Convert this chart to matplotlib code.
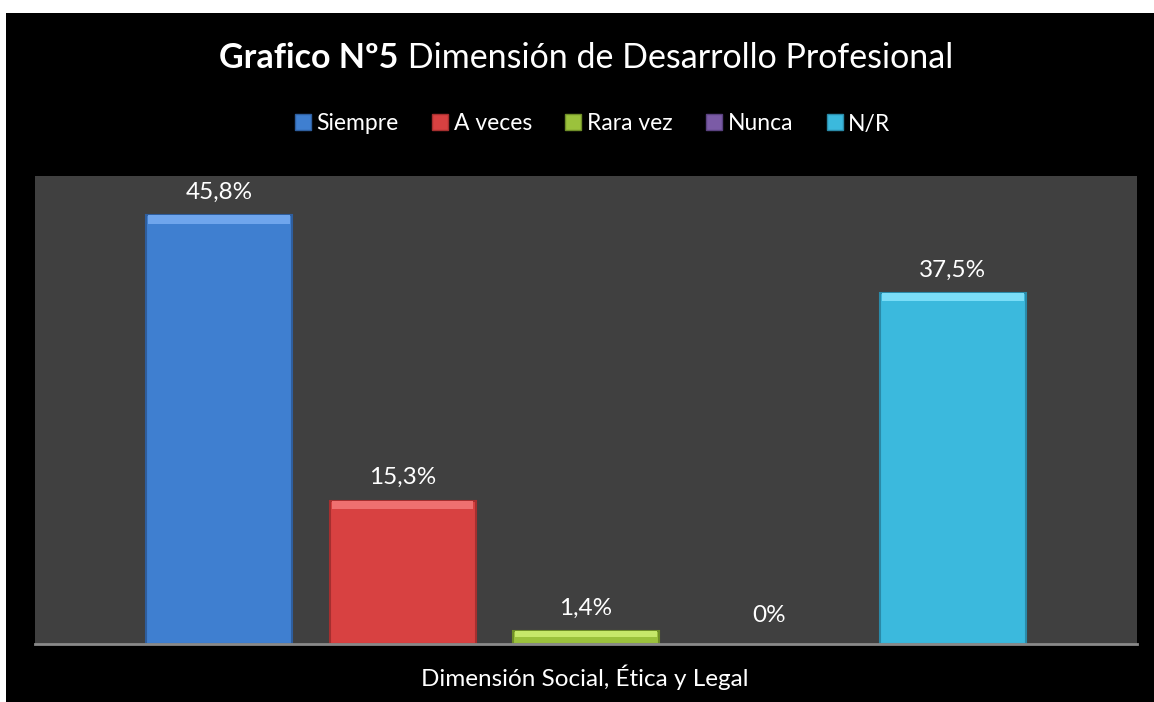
import matplotlib
matplotlib.use("Agg")
import matplotlib.pyplot as plt
from matplotlib.patches import Rectangle
from matplotlib.lines import Line2D

title_bold = "Grafico Nº5"
title_rest = " Dimensión de Desarrollo Profesional"
category = "Dimensión Social, Ética y Legal"
series = ["Siempre", "A veces", "Rara vez", "Nunca", "N/R"]
values = [45.8, 15.3, 1.4, 0.0, 37.5]
labels = ["45,8%", "15,3%", "1,4%", "0%", "37,5%"]
colors = ["#3F7FD0", "#D84141", "#9BC23C", "#7B5BA6", "#3BB9DD"]
highlights = ["#6FA5EC", "#EF7070", "#C6E86A", "#A68AD0", "#7ADDF7"]
edges = ["#2E5E9E", "#A52F2F", "#6F8E28", "#5A4280", "#2A8AA8"]

plt.rcParams['font.family'] = ['Lato', 'DejaVu Sans']

W, H = 1154, 702
fig = plt.figure(figsize=(W/100, H/100), dpi=100)
fig.patch.set_facecolor("white")
fig.add_artist(Rectangle((6/W, 0), 1 - 6/W, 1 - 13/H, transform=fig.transFigure,
                         facecolor="black", edgecolor="none", zorder=0))

ax = fig.add_axes([35/W, 1 - 644/H, (1137 - 35)/W, (644 - 176)/H])
ax.set_facecolor("#404040")
ax.set_ylim(0, 50)
ax.set_xlim(-0.5, 0.5)
n = len(values)
bw = 146 / 1102
step = 183.5 / 1102
xs = [(i - (n - 1) / 2) * step for i in range(n)]
for x, v, c, hc, ec, lab in zip(xs, values, colors, highlights, edges, labels):
    if v > 0:
        ax.bar(x, v, width=bw, color=c, edgecolor=ec, linewidth=1.5, zorder=2)
        strip = min(0.9, v * 0.5)
        ax.bar(x, strip, bottom=v - strip, width=bw * 0.97, color=hc,
               edgecolor="none", zorder=3)
    ax.annotate(lab, (x, v), xytext=(0, 9 if v > 0 else 13), textcoords="offset points",
                ha="center", va="bottom", color="white", fontsize=17.5)

for s in ["top", "right", "left"]:
    ax.spines[s].set_visible(False)
ax.spines["bottom"].set_color("#8A8A8A")
ax.spines["bottom"].set_linewidth(2)
ax.set_xticks([])
ax.set_yticks([])

fig.text(585/W, 1 - 677/H, category, ha="center", va="center", color="white", fontsize=17.5)

# title
t1 = fig.text(0, 1 - 58/H, title_bold, ha="left", va="center", color="white",
              fontsize=24.5, fontweight="bold")
t2 = fig.text(0, 1 - 58/H, title_rest, ha="left", va="center", color="white", fontsize=24.5)
fig.canvas.draw()
r = fig.canvas.get_renderer()
w1 = t1.get_window_extent(r).width
w2 = t2.get_window_extent(r).width
start = 586 - (w1 + w2) / 2
t1.set_x(start / W)
t2.set_x((start + w1) / W)

handles = [Line2D([], [], marker="s", linestyle="none", markersize=11,
                  markerfacecolor=c, markeredgecolor=e) for c, e in zip(colors, edges)]
fig.legend(handles, series, loc="center", bbox_to_anchor=(591/W, 1 - 124/H), ncol=5,
           frameon=False, fontsize=16.5, labelcolor="white", handletextpad=0.1,
           columnspacing=1.3, handlelength=1.0)

fig.savefig("out.png", dpi=100, facecolor=fig.get_facecolor())
